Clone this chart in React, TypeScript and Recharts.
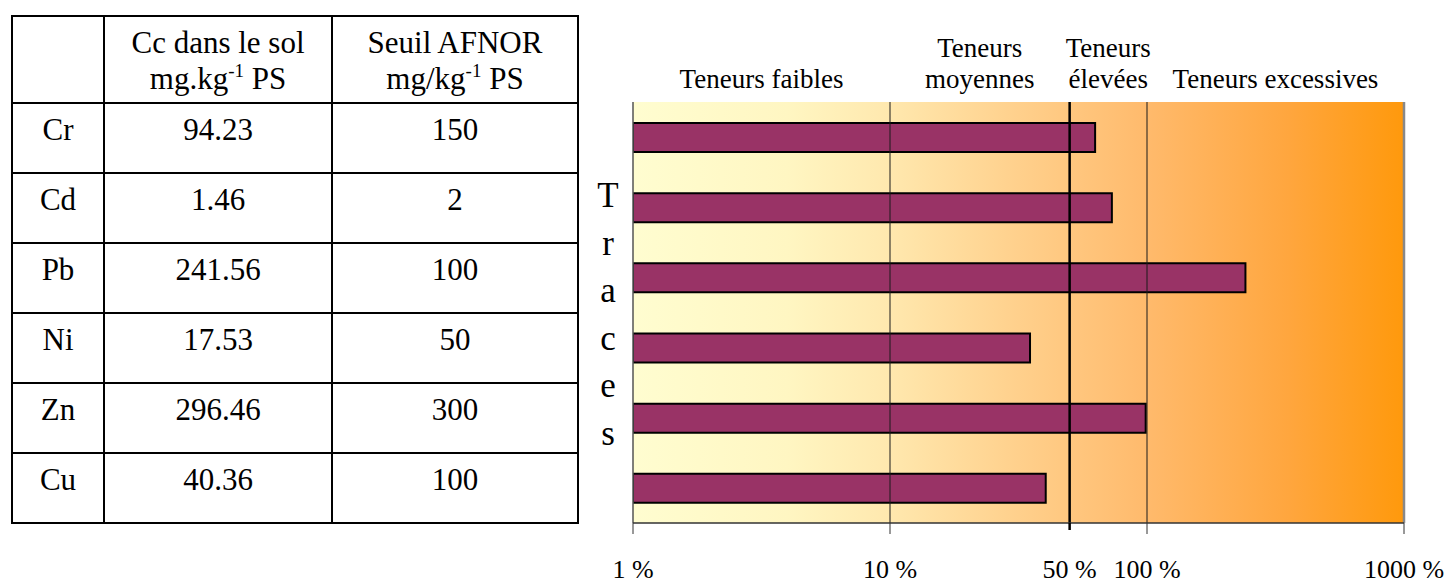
import React from 'react';
import { BarChart, Bar, XAxis, YAxis, CartesianGrid, ReferenceLine, ReferenceArea } from 'recharts';

const elements = ['Cr', 'Cd', 'Pb', 'Ni', 'Zn', 'Cu'];
const soilConc = ['94.23', '1.46', '241.56', '17.53', '296.46', '40.36'];
const afnorThreshold = ['150', '2', '100', '50', '300', '100'];
const pctOfThreshold = [62.82, 73.0, 241.56, 35.06, 98.82, 40.36];
const xTicks = [1, 10, 50, 100, 1000];
const zoneFrom = [1, 10, 50, 100];
const zoneTo = [10, 50, 100, 1000];
const zoneLabels = [['Teneurs faibles'], ['Teneurs', 'moyennes'], ['Teneurs', 'élevées'], ['Teneurs excessives']];
const axisTitle = 'Traces';

const data = elements.map((name, i) => ({ name, pct: pctOfThreshold[i] }));

const SERIF = "'Liberation Serif', 'Times New Roman', 'DejaVu Serif', serif";

const Tick = (props: any) => {
  const { x, y, payload } = props;
  const v = payload.value;
  const major = v === 50;
  return (
    <g>
      <line x1={x} x2={x} y1={y} y2={y + (major ? 7 : 11)} stroke={major ? '#000' : '#333'} strokeWidth={major ? 2.5 : 1} />
      <text x={x} y={y + 55} textAnchor="middle" fontSize={26} fontFamily={SERIF} fill="#000">{`${v} %`}</text>
    </g>
  );
};

const makeZoneLabel = (lines: string[]) => (props: any) => {
  const vb = props.viewBox || {};
  const cx = vb.x + vb.width / 2;
  const top = vb.y;
  const n = lines.length;
  return (
    <text textAnchor="middle" fontSize={27} fontFamily={SERIF} fill="#000">
      {lines.map((l, i) => (
        <tspan key={i} x={cx} y={top - 14 - (n - 1 - i) * 31}>{l}</tspan>
      ))}
    </text>
  );
};

const cellBase: React.CSSProperties = {
  border: '2px solid #000',
  padding: 0,
  paddingTop: 8,
  verticalAlign: 'top',
  textAlign: 'center',
  fontSize: 31,
  lineHeight: '36px',
  fontFamily: SERIF,
  color: '#000',
};

const Sup = ({ children }: { children: React.ReactNode }) => (
  <sup style={{ fontSize: 19, lineHeight: 0, verticalAlign: 'baseline', position: 'relative', top: -12 }}>{children}</sup>
);

export default function App() {
  return (
    <div style={{ position: 'absolute', left: 0, top: 0, width: 1451, height: 585, background: '#fff' }}>
      <table
        style={{
          position: 'absolute',
          left: 11,
          top: 15,
          width: 566,
          borderCollapse: 'collapse',
          tableLayout: 'fixed',
        }}
      >
        <colgroup>
          <col style={{ width: 92 }} />
          <col style={{ width: 228 }} />
          <col style={{ width: 246 }} />
        </colgroup>
        <tbody>
          <tr style={{ height: 87 }}>
            <td style={cellBase}></td>
            <td style={cellBase}>
              Cc dans le sol
              <br />
              mg.kg<Sup>-1</Sup> PS
            </td>
            <td style={cellBase}>
              Seuil AFNOR
              <br />
              mg/kg<Sup>-1</Sup> PS
            </td>
          </tr>
          {elements.map((el, i) => (
            <tr key={el} style={{ height: 70 }}>
              <td style={cellBase}>{el}</td>
              <td style={cellBase}>{soilConc[i]}</td>
              <td style={cellBase}>{afnorThreshold[i]}</td>
            </tr>
          ))}
        </tbody>
      </table>

      <div
        style={{
          position: 'absolute',
          left: 588,
          top: 172,
          width: 40,
          textAlign: 'center',
          fontFamily: SERIF,
          fontSize: 35,
          lineHeight: '47.6px',
          color: '#000',
        }}
      >
        {axisTitle.split('').map((c, i) => (
          <div key={i}>{c}</div>
        ))}
      </div>

      <div style={{ position: 'absolute', left: 0, top: 0 }}>
        <BarChart
          width={1451}
          height={585}
          data={data}
          layout="vertical"
          margin={{ top: 102, right: 47, left: 633, bottom: 0 }}
          barCategoryGap={0}
        >
          <defs>
            <linearGradient id="bgGrad" x1="0" y1="0" x2="1" y2="0">
              <stop offset="0" stopColor="#FFFDD0" />
              <stop offset="0.2" stopColor="#FFF6C2" />
              <stop offset="0.333" stopColor="#FFE8AE" />
              <stop offset="0.5" stopColor="#FFD08C" />
              <stop offset="0.667" stopColor="#FFBA6C" />
              <stop offset="0.85" stopColor="#FFA63E" />
              <stop offset="1" stopColor="#FF990C" />
            </linearGradient>
          </defs>
          <CartesianGrid horizontal={false} vertical={false} fill="url(#bgGrad)" fillOpacity={1} stroke="none" />
          <XAxis
            type="number"
            dataKey="pct"
            scale="log"
            domain={[1, 1000]}
            ticks={xTicks}
            interval={0}
            height={62}
            tickSize={0}
            tickMargin={0}
            tickLine={false}
            tick={<Tick />}
            axisLine={{ stroke: '#333', strokeWidth: 1.5 }}
            allowDataOverflow
          />
          <YAxis type="category" dataKey="name" hide />
          {zoneLabels.map((lines, i) => (
            <ReferenceArea
              key={i}
              x1={zoneFrom[i]}
              x2={zoneTo[i]}
              fill="none"
              fillOpacity={0}
              stroke="none"
              label={makeZoneLabel(lines)}
            />
          ))}
          <ReferenceLine x={10} stroke="#1a1a1a" strokeWidth={1} />
          <ReferenceLine x={100} stroke="#1a1a1a" strokeWidth={1} />
          <ReferenceLine x={1} stroke="#555" strokeWidth={1.5} />
          <ReferenceLine x={1000} stroke="#888" strokeWidth={2.5} />
          <Bar dataKey="pct" fill="#993366" stroke="#000" strokeWidth={2} barSize={29} isAnimationActive={false} />
          <ReferenceLine x={50} stroke="#000" strokeWidth={2.5} />
        </BarChart>
      </div>
    </div>
  );
}
